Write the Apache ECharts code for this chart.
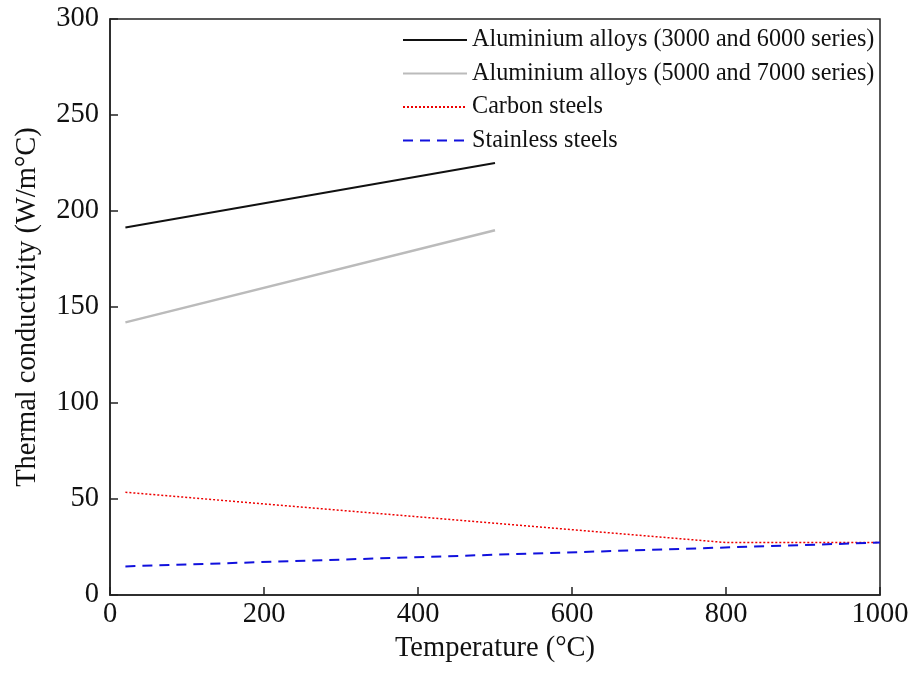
<!DOCTYPE html>
<html lang="en">
<head>
    <meta charset="UTF-8">
    <title>Thermal conductivity</title>
    <script src="https://cdn.jsdelivr.net/npm/echarts@6/dist/echarts.min.js"></script>
    <style>body{margin:0;background:#fff;}</style>
</head>
<body>
    <div id="main" style="width:914px;height:677px;"></div>
    <script>
    var seriesNames = [
        'Aluminium alloys (3000 and 6000 series)',
        'Aluminium alloys (5000 and 7000 series)',
        'Carbon steels',
        'Stainless steels'
    ];
    // [temperature, conductivity]
    var al3000 = [[20, 191.4], [500, 225]];
    var al5000 = [[20, 142], [500, 190]];
    var carbon = [[20, 53.5], [800, 27.3], [1000, 27.3]];
    var stainless = [[20, 14.9], [1000, 27.3]];

    var font = 'Liberation Serif';

    var chart = echarts.init(document.getElementById('main'));
    chart.setOption({
        animation: false,
        backgroundColor: '#fff',
        textStyle: { fontFamily: font },
        grid: {
            left: 110, right: 34, top: 19, bottom: 82,
            show: true, borderColor: '#222', borderWidth: 1.5
        },
        legend: {
            orient: 'vertical',
            left: 397, top: 23,
            itemWidth: 64, itemHeight: 10, itemGap: 9.5,
            itemStyle: { opacity: 0 },
            textStyle: { fontFamily: font, fontSize: 24.2, color: '#111' },
            data: seriesNames
        },
        xAxis: {
            type: 'value', min: 0, max: 1000, interval: 200,
            name: 'Temperature (°C)', nameLocation: 'middle', nameGap: 33,
            nameTextStyle: { fontFamily: font, fontSize: 28.5, color: '#111' },
            axisLine: { lineStyle: { color: '#222', width: 1.5 } },
            axisTick: { inside: true, length: 8, lineStyle: { color: '#222', width: 1.5 } },
            axisLabel: { fontFamily: font, fontSize: 28.5, color: '#111', margin: 5,
                formatter: function (v) { return String(v); } },
            splitLine: { show: false }
        },
        yAxis: {
            type: 'value', min: 0, max: 300, interval: 50,
            name: 'Thermal conductivity (W/m°C)', nameLocation: 'middle', nameGap: 68,
            nameTextStyle: { fontFamily: font, fontSize: 28.5, color: '#111' },
            axisLine: { lineStyle: { color: '#222', width: 1.5 } },
            axisTick: { inside: true, length: 8, lineStyle: { color: '#222', width: 1.5 } },
            axisLabel: { fontFamily: font, fontSize: 28.5, color: '#111', margin: 11 },
            splitLine: { show: false }
        },
        series: [
            {
                name: seriesNames[0], type: 'line', data: al3000, symbol: 'none',
                lineStyle: { color: '#111', width: 2 }, itemStyle: { color: '#111' }
            },
            {
                name: seriesNames[1], type: 'line', data: al5000, symbol: 'none',
                lineStyle: { color: '#bbb', width: 2.5 }, itemStyle: { color: '#bbb' }
            },
            {
                name: seriesNames[2], type: 'line', data: carbon, symbol: 'none',
                lineStyle: { color: '#e00', width: 1.5, type: [2, 2] }, itemStyle: { color: '#e00' }
            },
            {
                name: seriesNames[3], type: 'line', data: stainless, symbol: 'none',
                lineStyle: { color: '#11d', width: 2, type: [10, 7] }, itemStyle: { color: '#11d' }
            }
        ]
    });
    </script>
</body>
</html>
